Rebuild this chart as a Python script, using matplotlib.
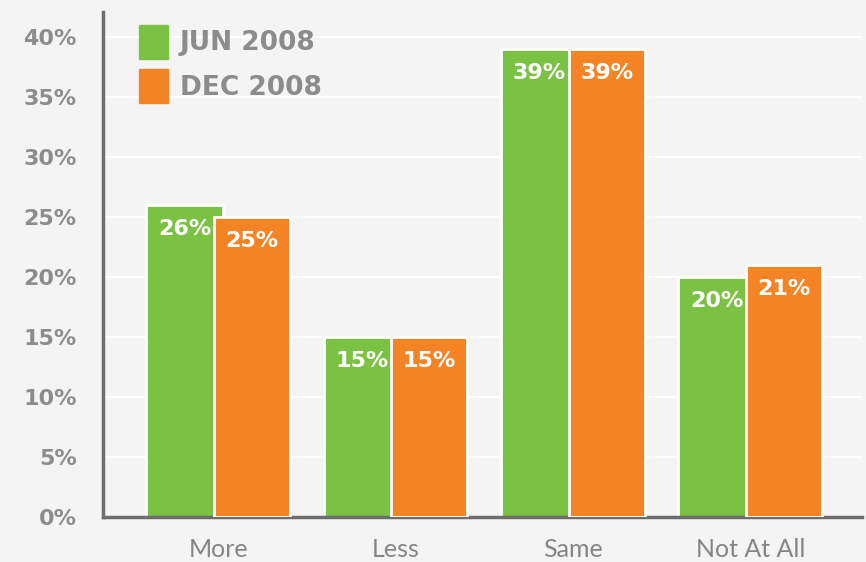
import matplotlib.pyplot as plt
import matplotlib.patches as mpatches
import numpy as np

# === data ===
categories = ["More", "Less", "Same", "Not At All"]
jun_2008 = [26, 15, 39, 20]
dec_2008 = [25, 15, 39, 21]
series_names = ["JUN 2008", "DEC 2008"]
yticks = [0, 5, 10, 15, 20, 25, 30, 35, 40]

green = "#7bc143"
orange = "#f58426"
grey = "#8c8c8c"
bg = "#f4f4f4"

fig = plt.figure(figsize=(8.66, 5.62), dpi=100, facecolor=bg)
ax = fig.add_axes([103 / 866, 1 - 517 / 562, 759 / 866, 505 / 562], facecolor=bg)

x = np.arange(len(categories))
w = 0.43
off = 0.19

# gridlines behind bars
ax.set_axisbelow(True)
ax.yaxis.grid(True, color="white", linewidth=1.6)
ax.xaxis.grid(False)

ax.bar(x - off, jun_2008, w, color=green, edgecolor="white", linewidth=2, zorder=2)
ax.bar(x + off, dec_2008, w, color=orange, edgecolor="white", linewidth=2, zorder=3)

# value labels inside the bars
for i in range(len(categories)):
    ax.text(x[i] - off, jun_2008[i] - 2.0, f"{jun_2008[i]}%", ha="center", va="center",
            color="white", fontsize=16, fontweight="bold", zorder=5)
    ax.text(x[i] + off, dec_2008[i] - 2.0, f"{dec_2008[i]}%", ha="center", va="center",
            color="white", fontsize=16, fontweight="bold", zorder=5)

ax.set_xlim(-0.65, 3.63)
ax.set_ylim(0, 42.1)

ax.set_yticks(yticks)
ax.set_yticklabels([f"{t}%" for t in yticks], fontsize=16, fontweight="heavy", color=grey)
ax.set_xticks(x)
ax.set_xticklabels(categories, fontsize=18, color="#858585", family="Lato", fontweight="normal")
ax.tick_params(axis="y", length=0, pad=19)
ax.tick_params(axis="x", length=0, pad=15)

for s in ["top", "right"]:
    ax.spines[s].set_visible(False)
for s in ["left", "bottom"]:
    ax.spines[s].set_color("#6d6d6d")
    ax.spines[s].set_linewidth(2.5)

# legend, top left
handles = [mpatches.Patch(color=green), mpatches.Patch(color=orange)]
leg = ax.legend(handles, series_names, loc="upper left", bbox_to_anchor=(115 / 866, 1 - 1 / 562),
                bbox_transform=fig.transFigure, frameon=False, fontsize=19,
                handlelength=1.1, handleheight=1.6, handletextpad=0.45, labelspacing=0.4)
for t in leg.get_texts():
    t.set_color(grey)
    t.set_fontweight("bold")

fig.savefig("out.png", dpi=100, facecolor=bg)
